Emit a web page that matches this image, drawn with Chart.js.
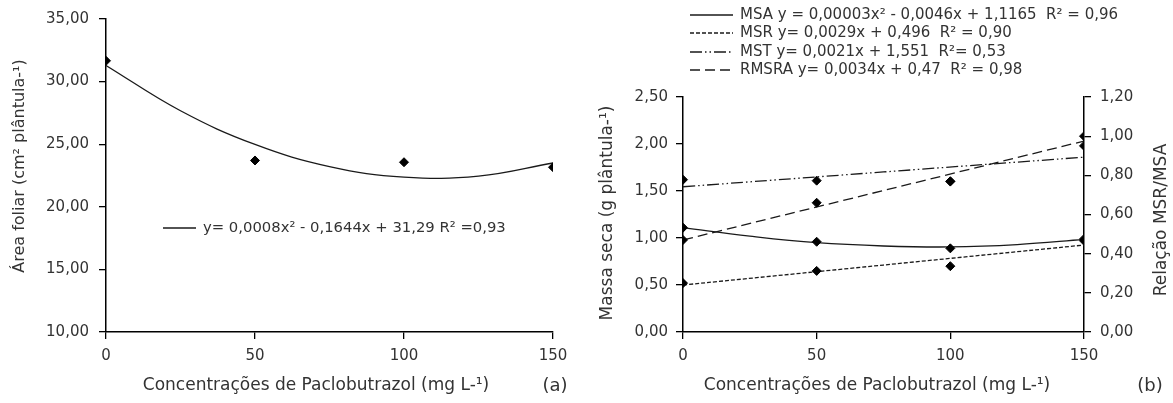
<!DOCTYPE html>
<html>
<head>
<meta charset="UTF-8">
<title>Paclobutrazol</title>
<script src="https://cdn.jsdelivr.net/npm/chart.js"></script>
<style>
  body { margin: 0; background: #fff; }
  #wrap { position: relative; width: 1173px; height: 403px; }
  canvas { position: absolute; top: 0; }
</style>
</head>
<body>
<div id="wrap">
  <canvas id="chartA" width="586" height="403" style="left:0"></canvas>
  <canvas id="chartB" width="587" height="403" style="left:586px"></canvas>
</div>
<script>
// concentrations of paclobutrazol (mg L-1)
var doses = [0, 50, 100, 150];

var areaFoliar = [31.66, 23.7, 23.56, 23.16];
var curveX = [0, 25, 50, 75, 100, 125, 150];
var areaCurve = [31.29, 27.67, 24.98, 23.21, 22.37, 22.45, 23.5];

// (b) dry mass (left axis) and MSR/MSA ratio (right axis)
var msa = [1.11, 0.96, 0.89, 0.99];
var msr = [0.52, 0.65, 0.70, 0.97];
var mst = [1.62, 1.61, 1.60, 1.98];
var rmsra = [0.47, 0.66, 0.77, 1.00];
var msaCurve = [1.11, 1.02, 0.95, 0.915, 0.905, 0.93, 0.985];
var lineX = [0, 150];
var msrLine = [0.50, 0.925];
var mstLine = [1.545, 1.86];
var rmsraLine = [0.47, 0.975];

var labelA = 'y= 0,0008x² - 0,1644x + 31,29 R² =0,93';
var labelsB = [
  'MSA y = 0,00003x² - 0,0046x + 1,1165  R² = 0,96',
  'MSR y= 0,0029x + 0,496  R² = 0,90',
  'MST y= 0,0021x + 1,551  R²= 0,53',
  'RMSRA y= 0,0034x + 0,47  R² = 0,98'
];
var dashesB = [[], [4, 2], [12, 3, 1.5, 3, 1.5, 3], [10, 5]];

var xTitle = 'Concentrações de Paclobutrazol (mg L-¹)';
var ink = '#333';
var lineInk = '#1a1a1a';

Chart.defaults.font.family = 'DejaVu Sans';
Chart.defaults.font.size = 15;
Chart.defaults.color = ink;

function pts(xs, ys) {
  return xs.map(function (x, i) { return { x: x, y: ys[i] }; });
}
function comma(v) {
  return v.toFixed(2).replace('.', ',');
}
function markers(ys, axis) {
  return { data: pts(doses, ys), yAxisID: axis || 'y', pointStyle: 'rectRot', pointRadius: 4.5,
           backgroundColor: '#000', borderColor: '#000', borderWidth: 1, showLine: false };
}
function curve(xs, ys, dash, axis) {
  return { data: pts(xs, ys), yAxisID: axis || 'y', showLine: true, tension: 0.4, pointRadius: 0,
           borderColor: lineInk, borderWidth: 1.3, borderDash: dash, fill: false };
}
function xAxis() {
  return {
    type: 'linear', min: 0, max: 150,
    ticks: { stepSize: 50, padding: 8 },
    grid: { drawOnChartArea: false, tickLength: 7, color: '#000', lineWidth: 1.3 },
    border: { color: '#000', width: 1.5 },
    afterFit: function (s) { s.height = 71; }
  };
}
function yAxis(min, max, step, pos, width, pad) {
  return {
    type: 'linear', position: pos, min: min, max: max,
    ticks: { stepSize: step, padding: pad, callback: comma },
    grid: { drawOnChartArea: false, tickLength: 7, color: '#000', lineWidth: 1.3 },
    border: { color: '#000', width: 1.5 },
    afterFit: function (s) { s.width = width; }
  };
}

// legend rows, axis titles and panel tags drawn on top of each chart
var notes = {
  id: 'notes',
  afterDraw: function (chart, args, o) {
    var ctx = chart.ctx;
    ctx.save();
    ctx.fillStyle = ink;
    ctx.strokeStyle = lineInk;
    ctx.lineWidth = 1.3;
    ctx.textBaseline = 'middle';
    (o.rows || []).forEach(function (r) {
      ctx.setLineDash(r.dash || []);
      ctx.beginPath();
      ctx.moveTo(r.x0, r.y);
      ctx.lineTo(r.x1, r.y);
      ctx.stroke();
      ctx.font = r.font;
      ctx.textAlign = 'left';
      ctx.fillText(r.text, r.x1 + 7, r.y);
    });
    ctx.textAlign = 'center';
    (o.texts || []).forEach(function (t) {
      ctx.save();
      ctx.translate(t.x, t.y);
      if (t.up) ctx.rotate(-Math.PI / 2);
      ctx.font = t.font;
      ctx.fillText(t.text, 0, 0);
      ctx.restore();
    });
    ctx.restore();
  }
};

new Chart(document.getElementById('chartA'), {
  type: 'scatter',
  data: { datasets: [markers(areaFoliar), curve(curveX, areaCurve, [])] },
  options: {
    responsive: false, animation: false,
    layout: { padding: { left: 0, top: 18, right: 33, bottom: 0 } },
    plugins: {
      legend: { display: false }, tooltip: { enabled: false },
      notes: {
        rows: [{ x0: 163, x1: 196, y: 228, text: labelA, font: '14.8px DejaVu Sans' }],
        texts: [
          { text: xTitle, x: 316, y: 386, font: '17px DejaVu Sans' },
          { text: '(a)', x: 555, y: 386, font: '18px DejaVu Sans' },
          { text: 'Área foliar (cm² plântula-¹)', x: 20, y: 166, up: true, font: '16px DejaVu Sans' }
        ]
      }
    },
    scales: { x: xAxis(), y: yAxis(10, 35, 5, 'left', 106, 10) }
  },
  plugins: [notes]
});

new Chart(document.getElementById('chartB'), {
  type: 'scatter',
  data: {
    datasets: [
      markers(msa), markers(msr), markers(mst), markers(rmsra, 'y1'),
      curve(curveX, msaCurve, dashesB[0]),
      curve(lineX, msrLine, dashesB[1]),
      curve(lineX, mstLine, dashesB[2]),
      curve(lineX, rmsraLine, dashesB[3], 'y1')
    ]
  },
  options: {
    responsive: false, animation: false,
    layout: { padding: { left: 0, top: 97, right: 0, bottom: 0 } },
    plugins: {
      legend: { display: false }, tooltip: { enabled: false },
      notes: {
        rows: labelsB.map(function (t, i) {
          return { x0: 104, x1: 147, y: [15, 33, 52, 70][i], text: t, dash: dashesB[i], font: '15px DejaVu Sans' };
        }),
        texts: [
          { text: xTitle, x: 291, y: 386, font: '17px DejaVu Sans' },
          { text: '(b)', x: 564, y: 386, font: '18px DejaVu Sans' },
          { text: 'Massa seca (g plântula-¹)', x: 22, y: 213, up: true, font: '17px DejaVu Sans' },
          { text: 'Relação MSR/MSA', x: 576, y: 220, up: true, font: '17px DejaVu Sans' }
        ]
      }
    },
    scales: {
      x: xAxis(),
      y: yAxis(0, 2.5, 0.5, 'left', 97, 8),
      y1: yAxis(0, 1.2, 0.2, 'right', 89, 9)
    }
  },
  plugins: [notes]
});
</script>
</body>
</html>
